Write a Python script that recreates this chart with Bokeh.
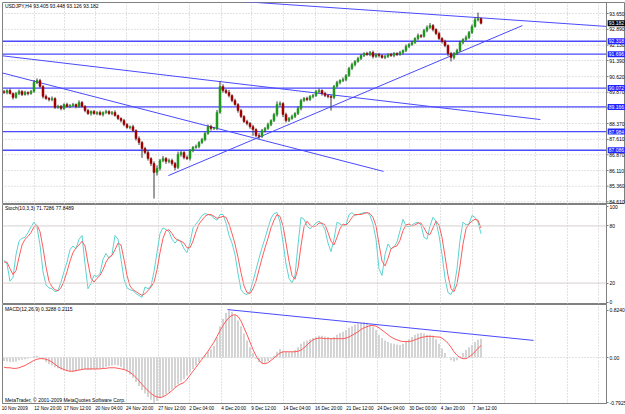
from bokeh.plotting import figure
from bokeh.models import Range1d, FixedTicker, Span, Label, ColumnDataSource
from bokeh.layouts import column
from bokeh.embed import file_html
from bokeh.resources import INLINE
from bokeh.core.properties import value

# ---------------- data ----------------
first_open = 89.90
close = [
    89.86, 89.95, 89.81, 89.62, 89.81, 89.91, 89.76, 89.86, 89.81, 89.91,
    90.34, 90.43, 90.15, 89.67, 89.57, 89.52, 89.57, 89.14, 89.19, 89.09,
    89.28, 89.19, 89.23, 89.28, 89.19, 89.38, 89.19, 88.99, 88.85, 88.95,
    88.85, 88.90, 88.80, 88.90, 88.95, 88.85, 88.90, 88.75, 88.61, 88.51,
    88.32, 88.18, 88.22, 88.03, 87.65, 87.46, 87.17, 86.98, 86.69, 86.45,
    86.02, 86.21, 86.59, 86.69, 86.55, 86.59, 86.45, 86.26, 86.88, 86.98,
    86.74, 86.69, 87.07, 87.22, 87.27, 87.46, 87.60, 87.89, 88.22, 88.13,
    88.13, 88.90, 90.15, 89.95, 89.86, 89.71, 89.47, 89.28, 88.99, 88.71,
    88.47, 88.37, 88.22, 88.08, 87.79, 87.75, 88.03, 88.13, 88.32, 88.51,
    88.80, 89.28, 89.33, 88.80, 88.51, 88.61, 88.71, 88.85, 89.09, 89.47,
    89.57, 89.52, 89.67, 89.71, 89.91, 89.95, 89.81, 89.71, 89.67, 89.62,
    90.15, 90.34, 90.43, 90.48, 90.67, 91.01, 91.20, 91.35, 91.49, 91.63,
    91.73, 91.68, 91.78, 91.59, 91.68, 91.63, 91.54, 91.59, 91.68, 91.63,
    91.73, 91.68, 91.78, 91.87, 92.07, 92.16, 92.26, 92.45, 92.59, 92.55,
    92.83, 92.98, 93.07, 92.88, 92.69, 92.45, 92.31, 92.11, 91.73, 91.54,
    91.73, 91.87, 92.26, 92.40, 92.50, 92.74, 93.03, 93.35, 93.405, 93.182,
]
up_wick = [
    .08, .06, .10, .05, .07, .09, .06, .08, .05, .07,
    .12, .10, .08, .06, .09, .07, .10, .06, .08, .07,
    .06, .09, .07, .08, .05, .10, .07, .06, .08, .05,
    .07, .06, .09, .05, .08, .06, .07, .10, .05, .06,
    .08, .07, .05, .09, .06, .10, .07, .08, .12, .06,
    .10, .15, .08, .12, .07, .10, .09, .08, .14, .07,
    .06, .10, .08, .07, .09, .06, .08, .07, .10, .09,
    .08, .12, .24, .10, .08, .12, .06, .09, .07, .08,
    .06, .08, .07, .09, .06, .12, .08, .07, .09, .06,
    .08, .15, .10, .06, .09, .07, .08, .06, .10, .08,
    .07, .09, .06, .08, .07, .10, .06, .09, .05, .08,
    .07, .08, .06, .10, .07, .08, .09, .06, .08, .07,
    .06, .08, .07, .09, .06, .08, .05, .07, .06, .08,
    .07, .06, .08, .05, .09, .07, .08, .06, .10, .07,
    .08, .10, .12, .07, .06, .09, .07, .08, .06, .08,
    .07, .09, .08, .06, .10, .07, .09, .12, .29, .043,
]
dn_wick = [
    .07, .09, .05, .10, .06, .08, .07, .05, .09, .06,
    .06, .08, .07, .10, .06, .09, .08, .07, .06, .09,
    .07, .06, .08, .05, .09, .07, .06, .08, .07, .10,
    .06, .08, .05, .09, .07, .06, .08, .05, .07, .09,
    .08, .06, .09, .07, .10, .12, .45, .08, .10, .12,
    1.25, .15, .10, .08, .12, .09, .10, .14, .08, .10,
    .09, .07, .10, .08, .06, .09, .07, .08, .06, .10,
    .07, .08, .06, .10, .07, .09, .08, .06, .10, .08,
    .07, .09, .10, .30, .08, .12, .07, .09, .06, .08,
    .07, .10, .08, .12, .09, .07, .06, .08, .07, .09,
    .06, .08, .07, .09, .06, .08, .10, .07, .09, .63,
    .08, .06, .09, .07, .08, .06, .07, .09, .06, .08,
    .07, .06, .08, .10, .07, .09, .06, .08, .07, .06,
    .08, .07, .06, .09, .07, .08, .06, .07, .09, .08,
    .06, .08, .07, .09, .08, .07, .10, .08, .12, .19,
    .10, .08, .07, .09, .06, .08, .07, .06, .08, .056,
]
stoch_main = [
    44, 40, 22, 26, 50, 64, 67, 68, 73, 79,
    84, 79, 60, 32, 18, 15, 14, 11, 12, 21,
    32, 42, 55, 59, 56, 66, 70, 40, 14, 20,
    28, 27, 30, 45, 51, 46, 50, 70, 66, 45,
    24, 15, 13, 12, 9, 7, 5, 16, 14, 17,
    32, 52, 72, 78, 76, 74, 66, 62, 66, 63,
    56, 52, 62, 78, 82, 86, 91, 93, 92, 91,
    88, 86, 92, 92, 83, 70, 62, 50, 30, 13,
    9, 8, 11, 22, 34, 46, 57, 67, 78, 88,
    93, 94, 84, 63, 40, 25, 20, 28, 60, 89,
    87, 80, 77, 80, 83, 85, 82, 76, 62, 53,
    66, 84, 82, 80, 81, 92, 94, 91, 92, 93,
    94, 94, 91, 82, 66, 35, 28, 50, 61, 56,
    58, 63, 75, 87, 80, 79, 81, 83, 84, 81,
    68, 66, 80, 89, 85, 70, 50, 25, 10, 8,
    15, 35, 65, 84, 81, 82, 91, 89, 84, 71.7286,
]
stoch_signal = [
    42, 42, 35, 29, 33, 47, 60, 66, 69, 73,
    79, 81, 74, 57, 37, 22, 16, 13, 12, 15,
    22, 32, 43, 52, 57, 60, 64, 59, 41, 25,
    21, 25, 28, 34, 42, 47, 49, 55, 62, 60,
    45, 28, 17, 13, 11, 9, 7, 9, 12, 16,
    21, 34, 52, 67, 75, 76, 72, 67, 65, 64,
    62, 57, 57, 64, 74, 82, 86, 90, 92, 92,
    90, 88, 89, 90, 89, 82, 72, 61, 47, 31,
    17, 10, 9, 14, 22, 34, 46, 57, 67, 78,
    86, 92, 90, 80, 62, 43, 28, 24, 36, 59,
    79, 85, 81, 79, 80, 83, 83, 81, 73, 64,
    60, 68, 77, 82, 81, 84, 89, 92, 92, 92,
    93, 94, 93, 89, 80, 61, 43, 38, 46, 56,
    58, 59, 65, 75, 81, 82, 80, 81, 83, 83,
    78, 72, 71, 78, 85, 81, 68, 48, 28, 14,
    11, 19, 38, 61, 77, 82, 85, 87, 86, 77.8489,
]
macd_main = [
    -0.06, -0.07, -0.08, -0.08, -0.07, -0.05, -0.04, -0.03, -0.02, -0.01,
    0.02, 0.03, 0.01, -0.03, -0.08, -0.12, -0.14, -0.17, -0.19, -0.21,
    -0.23, -0.24, -0.25, -0.25, -0.24, -0.22, -0.21, -0.21, -0.22, -0.22,
    -0.21, -0.20, -0.19, -0.18, -0.16, -0.15, -0.14, -0.13, -0.14, -0.16,
    -0.20, -0.25, -0.30, -0.36, -0.43, -0.50, -0.57, -0.63, -0.69, -0.74,
    -0.7925, -0.76, -0.72, -0.68, -0.64, -0.60, -0.56, -0.52, -0.47, -0.42,
    -0.38, -0.32, -0.26, -0.20, -0.14, -0.08, -0.02, 0.04, 0.10, 0.14,
    0.20, 0.35, 0.55, 0.68, 0.78, 0.824, 0.80, 0.74, 0.65, 0.55,
    0.42, 0.30, 0.18, 0.08, -0.02, -0.08, -0.10, -0.09, -0.06, -0.02,
    0.03, 0.10, 0.15, 0.12, 0.10, 0.09, 0.10, 0.13, 0.18, 0.24,
    0.28, 0.30, 0.32, 0.34, 0.36, 0.38, 0.38, 0.37, 0.36, 0.34,
    0.36, 0.40, 0.43, 0.45, 0.48, 0.52, 0.55, 0.58, 0.60, 0.61,
    0.62, 0.61, 0.58, 0.54, 0.48, 0.40, 0.34, 0.30, 0.27, 0.25,
    0.24, 0.23, 0.22, 0.24, 0.28, 0.32, 0.36, 0.40, 0.42, 0.43,
    0.42, 0.40, 0.40, 0.38, 0.32, 0.24, 0.16, 0.08, 0.00, -0.05,
    -0.07, -0.05, 0.02, 0.08, 0.13, 0.18, 0.22, 0.27, 0.31, 0.3288,
]
macd_signal = [
    -0.17, -0.18, -0.18, -0.19, -0.19, -0.18, -0.16, -0.14, -0.11, -0.08,
    -0.05, -0.03, -0.02, -0.02, -0.03, -0.05, -0.08, -0.12, -0.16, -0.19,
    -0.21, -0.23, -0.24, -0.24, -0.23, -0.22, -0.21, -0.20, -0.20, -0.20,
    -0.20, -0.20, -0.20, -0.19, -0.19, -0.18, -0.18, -0.18, -0.19, -0.20,
    -0.21, -0.23, -0.26, -0.30, -0.35, -0.41, -0.47, -0.53, -0.58, -0.63,
    -0.67, -0.69, -0.70, -0.69, -0.66, -0.62, -0.58, -0.53, -0.49, -0.46,
    -0.44, -0.38, -0.31, -0.24, -0.17, -0.10, -0.03, 0.04, 0.11, 0.19,
    0.27, 0.37, 0.47, 0.56, 0.64, 0.70, 0.74, 0.75, 0.72, 0.64,
    0.52, 0.40, 0.27, 0.14, 0.03, -0.05, -0.10, -0.11, -0.09, -0.05,
    -0.01, 0.04, 0.08, 0.10, 0.10, 0.10, 0.10, 0.10, 0.11, 0.13,
    0.17, 0.22, 0.27, 0.31, 0.33, 0.34, 0.34, 0.33, 0.33, 0.33,
    0.33, 0.33, 0.33, 0.33, 0.34, 0.36, 0.39, 0.42, 0.45, 0.49,
    0.52, 0.54, 0.56, 0.56, 0.55, 0.52, 0.48, 0.44, 0.40, 0.36,
    0.33, 0.31, 0.29, 0.28, 0.28, 0.28, 0.29, 0.31, 0.33, 0.35,
    0.36, 0.37, 0.37, 0.37, 0.36, 0.36, 0.34, 0.30, 0.25, 0.18,
    0.10, 0.04, 0.00, -0.02, -0.02, 0.01, 0.05, 0.10, 0.16, 0.2115,
]

price_ticks = [93.650, 92.890, 92.130, 91.390, 90.620, 89.870, 89.120,
               88.370, 87.610, 86.870, 86.110, 85.360, 84.610]
hline_levels = [92.318, 91.696, 90.072, 89.166, 87.984, 87.086]
last_price = 93.182
time_ticks = [-0.5, 10.2, 20.0, 30.5, 40.8, 51.5, 61.8, 72.5, 82.5, 93.2,
              103.8, 114.2, 124.5, 135.2, 145.5, 156.2]
time_labels = ["10 Nov 2009", "12 Nov 20:00", "17 Nov 12:00", "20 Nov 04:00",
               "24 Nov 20:00", "27 Nov 12:00", "2 Dec 04:00", "4 Dec 20:00",
               "9 Dec 12:00", "14 Dec 04:00", "16 Dec 20:00", "21 Dec 12:00",
               "24 Dec 04:00", "30 Dec 00:00", "4 Jan 20:00", "7 Jan 12:00"]
extra_grid = [166.7, 177.2, 187.7, 198.2]
# trend lines drawn by the analyst: (bar, price) anchors
trend_x = [[74.8, 200.8], [-1.2, 178.8], [-1.2, 126.5], [54.8, 172.8]]
trend_y = [[94.27, 93.03], [91.63, 88.56], [90.82, 86.07], [85.87, 93.07]]
macd_trend_x = [74.5, 176.5]
macd_trend_y = [0.84, 0.30]
macd_ticks = [-0.7925, 0.0, 0.824]
macd_tick_labels = ["-0.7925", "0.00", "0.8240"]

title_main = "USDJPY,H4  93.405 93.448 93.126 93.182"
title_stoch = "Stoch(10,3,3) 71.7286 77.8489"
title_macd = "MACD(12,26,9) 0.3288 0.2115"
footer = "MetaTrader, \u00a9 2001-2009 MetaQuotes Software Corp."

# ---------------- derived ----------------
n = len(close)
idx = list(range(n))
opens = [first_open] + close[:-1]
highs = [max(o, c) + u for o, c, u in zip(opens, close, up_wick)]
lows = [min(o, c) - d for o, c, d in zip(opens, close, dn_wick)]
BULL, BEAR = "#1f9a1f", "#a00000"
colors = [BULL if c >= o else BEAR for o, c in zip(opens, close)]
src = ColumnDataSource(dict(x=idx, o=opens, c=close, h=highs, l=lows,
                            top=[max(o, c) for o, c in zip(opens, close)],
                            bot=[min(o, c) for o, c in zip(opens, close)],
                            col=colors))

FONT = "Liberation Sans"
FS = "5px"
GRID = "#c4c4c4"
BLUE = "#4a4aff"
PX_PER_BAR = 3.0
FRAME_W = 604                     # chart area width in px
FULL_W = 623                      # main panel incl. price scale
X0 = -0.5
SEP = X0 + FRAME_W / PX_PER_BAR   # price-scale separator position (bar units)
xr = Range1d(X0, SEP)


def style_frame(p):
    p.xgrid.ticker = FixedTicker(ticks=time_ticks + extra_grid)
    p.xgrid.grid_line_color = GRID
    p.xgrid.grid_line_dash = "1 2"


def style_yaxis(ax):
    ax.axis_line_color = "#808080"
    ax.major_tick_out = 2
    ax.major_tick_in = 0
    ax.major_tick_line_color = "#808080"
    ax.minor_tick_line_color = None
    ax.major_label_text_font = FONT
    ax.major_label_text_font_size = FS
    ax.major_label_text_color = "#000000"
    ax.major_label_standoff = 1


def add_label(p, x, y, text, **kw):
    p.add_layout(Label(x=x, y=y, text=text, text_font=FONT, text_font_size=FS, **kw))


# ---------------- main price panel (price scale drawn in its right strip) ----------------
pm = figure(frame_width=FULL_W, frame_height=202,
            x_range=Range1d(X0, X0 + FULL_W / PX_PER_BAR), y_range=Range1d(84.482, 94.178),
            output_backend="svg", toolbar_location=None,
            x_axis_location=None, y_axis_location=None,
            min_border_left=2, min_border_right=0, min_border_top=2, min_border_bottom=0,
            background_fill_color="white", border_fill_color="white",
            outline_line_color="#808080", outline_line_width=1)
style_frame(pm)
pm.ygrid.visible = False
pm.segment(x0=X0, x1=SEP, y0=price_ticks, y1=price_ticks,
           line_color=GRID, line_dash="1 2", line_width=1)
pm.add_layout(Span(location=SEP, dimension="height", line_color="#808080", line_width=1))
pm.segment(x0=SEP, x1=SEP + 0.7, y0=price_ticks, y1=price_ticks, line_color="#808080")
pm.text(x=SEP + 0.9, y=price_ticks, text=["%.3f" % t for t in price_ticks],
        text_font=value(FONT), text_font_size=value(FS), text_baseline="middle",
        text_color="#000000")

pm.segment(x0=X0, x1=SEP, y0=hline_levels, y1=hline_levels, line_color=BLUE, line_width=1.3)
pm.multi_line(xs=trend_x, ys=trend_y, line_color=BLUE, line_width=1)

pm.segment(x0="x", y0="l", x1="x", y1="h", source=src, line_color="#3a3a3a", line_width=1)
pm.vbar(x="x", top="top", bottom="bot", width=0.67, source=src,
        fill_color="col", line_color="col", line_width=0.5)

add_label(pm, 0.3, 94.15, title_main, text_baseline="top", text_color="#000000")
for lvl in hline_levels:
    add_label(pm, SEP + 0.4, lvl, "%.3f" % lvl, text_baseline="middle", text_color="white",
              background_fill_color="#2323ff", padding=1)
add_label(pm, SEP + 0.4, last_price, "%.3f" % last_price, text_baseline="middle",
          text_color="white", background_fill_color="#000000", padding=1)


def make_sub(fh, yr, bottom_axis=False):
    p = figure(frame_width=FRAME_W, frame_height=fh, x_range=xr, y_range=yr,
               output_backend="svg", toolbar_location=None,
               x_axis_location="below" if bottom_axis else None,
               y_axis_location="right",
               min_border_left=2, min_border_right=0, min_border_top=0,
               min_border_bottom=0, background_fill_color="white",
               border_fill_color="white", outline_line_color="#808080",
               outline_line_width=1)
    style_frame(p)
    p.ygrid.visible = False
    style_yaxis(p.yaxis[0])
    return p


# ---------------- stochastic panel ----------------
ps = make_sub(100, Range1d(-2.5, 102.5))
ps.yaxis.ticker = FixedTicker(ticks=[0, 20, 80, 100])
for lvl in (20, 80):
    ps.add_layout(Span(location=lvl, dimension="width", line_color="#d8d0d0", line_width=1))
ps.line(idx, stoch_main, line_color="#5cd3d0", line_width=1)
ps.line(idx, stoch_signal, line_color="#ff5c5c", line_width=1)
add_label(ps, 0.3, 101.5, title_stoch, text_baseline="top", text_color="#000000")

# ---------------- MACD panel ----------------
pc = make_sub(99, Range1d(-0.806, 0.929), bottom_axis=True)
pc.yaxis.ticker = FixedTicker(ticks=macd_ticks)
pc.yaxis.major_label_overrides = dict(zip(macd_ticks, macd_tick_labels))
pc.add_layout(Span(location=0, dimension="width", line_color=GRID, line_dash="1 2", line_width=1))
pc.vbar(x=idx, top=macd_main, bottom=0, width=0.5, fill_color="#c6c6c6", line_color=None)
pc.line(idx, macd_signal, line_color="#ff5a5a", line_width=1)
pc.line(macd_trend_x, macd_trend_y, line_color=BLUE, line_width=1)
add_label(pc, 0.3, 0.90, title_macd, text_baseline="top", text_color="#000000")
add_label(pc, 0.3, -0.79, footer, text_baseline="bottom", text_color="#000000")

# time labels sit to the right of their tick in MetaTrader: centre each label on its text
CHAR_BARS = 0.37
label_pos = [t + len(s) * CHAR_BARS for t, s in zip(time_ticks, time_labels)]
xa = pc.xaxis[0]
xa.ticker = FixedTicker(ticks=label_pos)
xa.major_label_overrides = dict(zip(label_pos, time_labels))
xa.major_label_text_font = FONT
xa.major_label_text_font_size = "4.6px"
xa.major_label_text_color = "#000000"
xa.major_label_standoff = 2
xa.major_tick_out = 0
xa.major_tick_in = 0
xa.minor_tick_line_color = None
xa.axis_line_color = "#808080"

layout = column(pm, ps, pc, spacing=0)
open("out.html", "w").write(file_html(layout, INLINE))
